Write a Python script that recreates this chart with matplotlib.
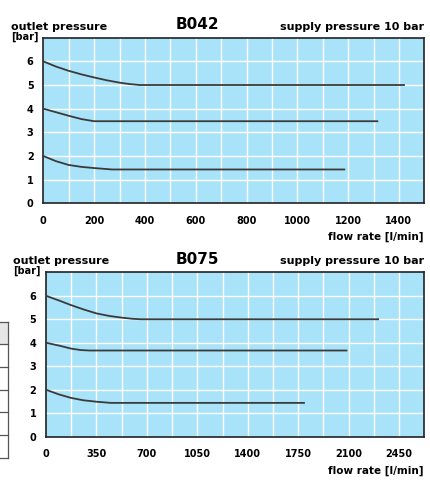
import numpy as np
import matplotlib.pyplot as plt
from matplotlib.patches import Rectangle
from matplotlib.lines import Line2D

plt.rcParams.update({
    'font.family': ['DejaVu Sans'],
    'font.weight': 'bold',
    'font.size': 7,
})

# B042 curves (flow l/min, outlet pressure bar)
b042_x1 = [0, 50, 100, 150, 200, 250, 300, 340, 380, 1420]
b042_y1 = [6.0, 5.78, 5.6, 5.45, 5.32, 5.2, 5.1, 5.04, 5.0, 5.0]
b042_x2 = [0, 50, 100, 150, 200, 1315]
b042_y2 = [4.0, 3.85, 3.7, 3.56, 3.47, 3.47]
b042_x3 = [0, 50, 100, 150, 200, 270, 1185]
b042_y3 = [2.0, 1.78, 1.62, 1.54, 1.49, 1.43, 1.43]
b042_xticks = [0, 200, 400, 600, 800, 1000, 1200, 1400]

# B075 curves
b075_x1 = [0, 90, 175, 260, 350, 440, 525, 600, 660, 2305]
b075_y1 = [6.0, 5.8, 5.6, 5.42, 5.25, 5.14, 5.07, 5.02, 5.0, 5.0]
b075_x2 = [0, 90, 175, 240, 300, 2085]
b075_y2 = [4.0, 3.88, 3.75, 3.69, 3.67, 3.67]
b075_x3 = [0, 90, 175, 260, 350, 450, 1790]
b075_y3 = [2.0, 1.8, 1.65, 1.55, 1.49, 1.44, 1.44]
b075_xticks = [0, 350, 700, 1050, 1400, 1750, 2100, 2450]

yticks = [0, 1, 2, 3, 4, 5, 6]

BG = "#a9e3f9"
LINE = "#3a3a3a"

fig = plt.figure(figsize=(4.3, 4.83), dpi=100)
W, H = 430, 483


def make_axes(left, top, right, bottom):
    return fig.add_axes([left / W, 1 - bottom / H, (right - left) / W, (bottom - top) / H])


def draw_panel(ax, curves, xmax, xstep, xticks, name, top, bottom, left):
    ax.set_facecolor(BG)
    ax.set_xlim(0, xmax)
    ax.set_ylim(0, 7)
    for xv in np.arange(xstep, xmax, xstep):
        ax.axvline(xv, color="white", lw=1.0, zorder=1)
    for yv in range(1, 7):
        ax.axhline(yv, color="white", lw=1.0, zorder=1)
    for xs, ys in curves:
        ax.plot(xs, ys, color=LINE, lw=1.3, zorder=3)
    ax.set_xticks(xticks)
    ax.set_yticks(yticks)
    ax.tick_params(length=0, labelsize=7, pad=9)
    ax.tick_params(axis="y", pad=7)
    for lab in ax.get_xticklabels() + ax.get_yticklabels():
        lab.set_fontweight("bold")
    for s in ax.spines.values():
        s.set_color("#222222")
        s.set_linewidth(1.2)
    # header texts
    fig.text(left / W, 1 - (top - 11) / H, "outlet pressure", fontsize=8,
             fontweight="bold", ha="left", va="center")
    fig.text(left / W, 1 - (top - 1) / H, "[bar]", fontsize=7,
             fontweight="bold", ha="left", va="center")
    fig.text(197 / W, 1 - (top - 13) / H, name, fontsize=11,
             fontweight="bold", ha="center", va="center")
    fig.text(424 / W, 1 - (top - 11) / H, "supply pressure 10 bar", fontsize=8,
             fontweight="bold", ha="right", va="center")
    fig.text(424 / W, 1 - (bottom + 34) / H, "flow rate [l/min]", fontsize=7.5,
             fontweight="bold", ha="right", va="center")


ax1 = make_axes(43.3, 37.7, 424.3, 203.3)
draw_panel(ax1, [(b042_x1, b042_y1), (b042_x2, b042_y2), (b042_x3, b042_y3)],
           1500, 100, b042_xticks, "B042", 37.7, 203.3, 11)

ax2 = make_axes(46, 272.3, 424.3, 436.7)
draw_panel(ax2, [(b075_x1, b075_y1), (b075_x2, b075_y2), (b075_x3, b075_y3)],
           2625, 175, b075_xticks, "B075", 272.3, 436.7, 13)

# table fragment at left edge
fig.patches.append(Rectangle((0, 1 - 344 / H), 8 / W, 22 / H, transform=fig.transFigure,
                             facecolor="#e6e6e6", edgecolor="none"))
for yy in [322, 344, 367, 390, 412, 435, 458]:
    fig.lines.append(Line2D([0, 8 / W], [1 - yy / H, 1 - yy / H], transform=fig.transFigure,
                            color="#555555", lw=0.9))
fig.lines.append(Line2D([8 / W, 8 / W], [1 - 322 / H, 1 - 458 / H], transform=fig.transFigure,
                        color="#555555", lw=0.9))

plt.savefig("out.png", dpi=100)
